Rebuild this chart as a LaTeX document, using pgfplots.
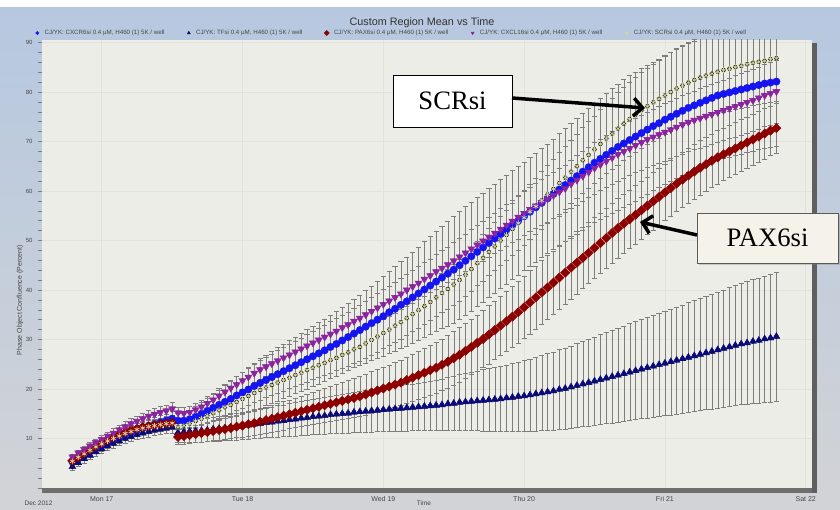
\documentclass[border=0pt]{standalone}
\usepackage{fontspec}
\setmainfont{Liberation Sans}
\newfontfamily\timesf{Liberation Serif}
\usepackage{pgfplots}
\usepackage{pgfplotstable}
\pgfplotsset{compat=1.18}
\usetikzlibrary{arrows.meta,shadows}

\definecolor{cblue}{RGB}{20,20,245}
\definecolor{cnavy}{RGB}{10,10,120}
\definecolor{cred}{RGB}{140,0,0}
\definecolor{cpurple}{RGB}{140,35,160}
\definecolor{ckhaki}{RGB}{212,212,158}
\definecolor{barc}{RGB}{125,125,125}
\definecolor{plotbg}{RGB}{237,237,231}
\definecolor{gridc}{RGB}{226,226,219}
\definecolor{bgtop}{RGB}{182,200,224}
\definecolor{bgbot}{RGB}{210,211,214}
\definecolor{txt}{RGB}{70,70,70}
\definecolor{titc}{RGB}{50,50,50}
\definecolor{boxc}{RGB}{245,243,233}
\definecolor{boxd}{RGB}{90,90,90}
\definecolor{barb}{RGB}{110,110,110}
\definecolor{barr}{RGB}{95,95,95}

\pgfplotstableread{
h B Be N Ne R Re P Pe K Ke
-5 5.3 1.0 4.3 0.8 5.5 0.8 6.3 0.6 5.4 0.8
-4 6.0 1.0 5.1 0.8 6.3 0.8 7.1 0.6 6.2 0.8
-3 6.7 1.0 5.9 0.8 7.1 0.8 7.8 0.6 6.9 0.8
-2 7.4 1.0 6.6 0.8 7.8 0.8 8.5 0.7 7.6 0.9
-1 8.0 1.0 7.3 0.8 8.5 0.8 9.2 0.7 8.3 0.9
0 8.6 1.1 7.9 0.9 9.1 0.9 9.8 0.8 8.9 1.0
1 9.2 1.1 8.5 0.9 9.7 0.9 10.5 0.8 9.5 1.0
2 9.8 1.1 9.0 0.9 10.3 0.9 11.1 0.9 10.0 1.0
3 10.3 1.2 9.5 0.9 10.8 0.9 11.8 0.9 10.5 1.1
4 10.8 1.2 10.0 1.0 11.3 1.0 12.4 1.0 11.0 1.1
5 11.3 1.2 10.4 1.0 11.7 1.0 13.0 1.0 11.4 1.1
6 11.7 1.3 10.8 1.0 12.0 1.0 13.5 1.1 11.8 1.2
7 12.1 1.3 11.1 1.0 12.3 1.0 14.0 1.1 12.1 1.2
8 12.5 1.3 11.4 1.1 12.5 1.1 14.5 1.2 12.4 1.2
9 12.9 1.4 11.7 1.1 12.7 1.1 14.9 1.2 12.6 1.3
10 13.3 1.4 11.9 1.1 12.9 1.1 15.3 1.2 12.8 1.3
11 13.6 1.4 12.1 1.1 13.0 1.1 15.6 1.2 13.0 1.3
12 14.0 1.5 12.3 1.2 13.2 1.2 16.0 1.3 13.1 1.3
13 13.6 1.5 11.2 2.0 10.3 1.5 15.2 1.2 12.3 1.2
14 13.6 1.7 11.3 2.1 10.5 1.6 15.1 1.2 12.6 1.3
15 13.9 1.9 11.4 2.1 10.7 1.6 15.3 1.2 13.0 1.3
16 14.4 2.2 11.5 2.2 10.9 1.7 15.8 1.3 13.5 1.4
17 15.0 2.4 11.6 2.3 11.1 1.8 16.4 1.3 14.0 1.4
18 15.6 2.6 11.7 2.3 11.3 1.9 17.1 1.4 14.6 1.5
19 16.2 2.8 11.9 2.4 11.5 1.9 17.8 1.4 15.1 1.5
20 16.8 3.0 12.0 2.5 11.7 2.0 18.6 1.5 15.7 1.6
21 17.4 3.3 12.1 2.5 11.9 2.1 19.4 1.6 16.3 1.6
22 18.0 3.6 12.3 2.6 12.1 2.1 20.2 1.6 16.8 1.7
23 18.7 3.9 12.4 2.7 12.4 2.2 20.9 1.7 17.4 1.7
24 19.3 4.1 12.6 2.7 12.6 2.3 21.7 1.7 18.0 1.8
25 19.9 4.4 12.7 2.8 12.9 2.4 22.4 1.8 18.6 1.9
26 20.6 4.7 12.9 2.9 13.1 2.4 23.2 1.9 19.2 1.9
27 21.2 5.0 13.0 3.0 13.4 2.5 23.9 1.9 19.8 2.0
28 21.8 5.1 13.2 3.0 13.7 2.6 24.5 2.0 20.3 2.0
29 22.4 5.2 13.3 3.1 14.0 2.7 25.1 2.0 20.8 2.1
30 23.0 5.4 13.5 3.2 14.3 2.8 25.7 2.1 21.3 2.1
31 23.6 5.5 13.6 3.2 14.6 2.9 26.3 2.1 21.8 2.2
32 24.2 5.6 13.8 3.3 14.9 2.9 26.9 2.2 22.3 2.2
33 24.8 5.7 13.9 3.4 15.2 3.0 27.5 2.2 22.8 2.3
34 25.4 5.9 14.1 3.4 15.5 3.1 28.1 2.2 23.3 2.3
35 26.0 6.0 14.2 3.5 15.8 3.2 28.7 2.3 23.8 2.4
36 26.6 6.1 14.4 3.6 16.1 3.3 29.3 2.3 24.3 2.4
37 27.2 6.2 14.5 3.6 16.4 3.4 29.9 2.4 24.8 2.5
38 27.8 6.3 14.6 3.7 16.7 3.5 30.5 2.4 25.3 2.5
39 28.5 6.4 14.8 3.8 17.0 3.5 31.1 2.5 25.8 2.6
40 29.1 6.6 14.9 3.8 17.3 3.6 31.7 2.5 26.3 2.6
41 29.8 6.7 15.0 3.9 17.6 3.7 32.4 2.6 26.9 2.7
42 30.5 6.8 15.1 4.0 17.9 3.8 33.0 2.6 27.4 2.7
43 31.2 6.9 15.3 4.0 18.2 3.9 33.7 2.7 28.0 2.8
44 31.9 7.0 15.4 4.1 18.5 4.0 34.3 2.7 28.5 2.9
45 32.6 7.3 15.5 4.2 18.9 4.1 35.0 2.8 29.2 2.9
46 33.3 7.5 15.6 4.3 19.3 4.2 35.7 2.9 29.9 3.0
47 34.0 7.8 15.7 4.3 19.7 4.3 36.4 2.9 30.6 3.1
48 34.7 8.0 15.8 4.4 20.1 4.3 37.1 3.0 31.3 3.1
49 35.5 8.3 15.9 4.5 20.5 4.4 37.8 3.0 32.0 3.2
50 36.2 8.5 16.0 4.5 20.9 4.5 38.5 3.1 32.8 3.3
51 37.0 8.8 16.1 4.6 21.3 4.6 39.2 3.1 33.5 3.4
52 37.7 9.0 16.2 4.7 21.8 4.7 40.0 3.2 34.3 3.4
53 38.5 9.2 16.3 4.7 22.3 4.8 40.7 3.3 35.1 3.5
54 39.3 9.4 16.4 4.8 22.8 4.9 41.4 3.3 35.9 3.6
55 40.1 9.7 16.5 4.9 23.3 5.0 42.2 3.4 36.7 3.7
56 40.9 9.9 16.6 4.9 23.8 5.0 42.9 3.4 37.6 3.8
57 41.7 10.1 16.7 5.0 24.3 5.1 43.7 3.5 38.5 3.9
58 42.5 10.3 16.8 5.1 24.9 5.2 44.4 3.6 39.4 3.9
59 43.3 10.6 17.0 5.3 25.5 5.3 45.1 3.6 40.2 4.0
60 44.1 10.8 17.1 5.4 26.2 5.4 45.9 3.7 41.1 4.1
61 45.0 11.0 17.3 5.6 26.9 5.5 46.7 3.7 42.0 4.2
62 45.9 11.0 17.4 5.7 27.7 5.6 47.5 3.8 43.1 4.3
63 46.8 11.0 17.5 5.9 28.5 5.6 48.3 3.9 44.2 4.4
64 47.7 11.0 17.6 6.0 29.3 5.7 49.1 3.9 45.4 4.5
65 48.6 11.0 17.7 6.2 30.1 5.8 49.9 4.0 46.5 4.7
66 49.5 11.0 17.8 6.3 31.0 5.9 50.7 4.1 47.7 4.8
67 50.4 11.0 17.9 6.5 31.9 5.9 51.5 4.1 48.8 4.9
68 51.3 11.0 18.0 6.6 32.8 6.0 52.3 4.2 50.0 5.0
69 52.2 11.0 18.2 6.7 33.7 6.1 53.1 4.2 51.1 5.1
70 53.1 11.0 18.3 6.9 34.6 6.1 53.9 4.3 52.3 5.2
71 54.0 11.0 18.5 7.0 35.5 6.2 54.7 4.4 53.5 5.4
72 54.9 11.0 18.6 7.2 36.5 6.3 55.5 4.4 54.6 5.5
73 55.8 11.0 18.8 7.3 37.5 6.4 56.3 4.5 55.8 5.6
74 56.7 11.0 19.0 7.5 38.5 6.4 57.0 4.6 56.9 5.7
75 57.6 11.0 19.2 7.6 39.5 6.5 57.7 4.6 58.1 5.8
76 58.5 11.0 19.4 7.8 40.5 6.5 58.4 4.7 59.3 5.9
77 59.4 11.1 19.6 7.9 41.5 6.4 59.1 4.7 60.4 6.0
78 60.3 11.3 19.9 8.1 42.5 6.4 59.8 4.8 61.6 6.2
79 61.2 11.4 20.1 8.2 43.5 6.4 60.5 4.8 62.7 6.3
80 62.1 11.6 20.4 8.3 44.5 6.3 61.4 4.9 63.9 6.4
81 63.0 11.7 20.7 8.5 45.5 6.3 62.2 5.0 65.0 6.5
82 63.9 11.9 21.0 8.6 46.5 6.2 63.0 5.0 66.2 6.6
83 64.8 12.0 21.3 8.8 47.5 6.2 63.8 5.1 67.3 6.7
84 65.7 12.1 21.6 8.9 48.5 6.2 64.6 5.2 68.4 6.8
85 66.5 12.3 21.9 9.1 49.5 6.1 65.3 5.2 69.5 7.0
86 67.3 12.4 22.2 9.2 50.5 6.1 66.0 5.3 70.6 7.1
87 68.1 12.6 22.5 9.4 51.5 6.0 66.7 5.3 71.6 7.2
88 68.9 12.7 22.8 9.5 52.5 6.0 67.4 5.4 72.6 7.3
89 69.6 12.9 23.1 9.6 53.4 6.0 68.0 5.4 73.6 7.4
90 70.3 13.0 23.4 9.8 54.3 5.9 68.6 5.5 74.5 7.5
91 71.0 13.0 23.7 9.9 55.2 5.9 69.2 5.5 75.4 7.5
92 71.7 13.0 24.0 10.0 56.1 5.9 69.8 5.6 76.3 7.6
93 72.4 13.0 24.3 10.2 57.0 5.8 70.4 5.6 77.1 7.7
94 73.1 13.0 24.6 10.3 57.9 5.8 70.9 5.7 77.9 7.8
95 73.7 13.0 24.9 10.4 58.8 5.8 71.4 5.7 78.6 7.9
96 74.4 13.0 25.2 10.5 59.7 5.7 71.9 5.8 79.3 7.9
97 75.0 13.0 25.5 10.7 60.6 5.7 72.4 5.8 80.0 8.0
98 75.6 13.0 25.8 10.8 61.5 5.6 72.9 5.8 80.7 8.1
99 76.2 13.0 26.1 10.9 62.3 5.6 73.4 5.9 81.3 8.1
100 76.8 13.0 26.4 11.1 63.1 5.6 73.9 5.9 81.9 8.2
101 77.3 13.0 26.7 11.2 63.9 5.5 74.3 5.9 82.4 8.2
102 77.8 13.0 27.0 11.3 64.7 5.5 74.7 6.0 82.9 8.3
103 78.3 13.0 27.3 11.4 65.4 5.5 75.1 6.0 83.3 8.3
104 78.8 13.0 27.6 11.6 66.1 5.4 75.5 6.0 83.7 8.4
105 79.3 13.0 27.9 11.7 66.8 5.4 75.9 6.1 84.1 8.4
106 79.6 13.0 28.2 11.8 67.4 5.3 76.3 6.1 84.4 8.4
107 79.9 13.0 28.5 12.0 68.0 5.3 76.7 6.1 84.7 8.5
108 80.2 13.0 28.8 12.1 68.6 5.3 77.1 6.2 85.0 8.5
109 80.5 13.0 29.1 12.2 69.2 5.2 77.5 6.2 85.3 8.5
110 80.8 13.0 29.3 12.4 69.8 5.2 77.9 6.2 85.6 8.6
111 81.1 13.0 29.6 12.5 70.4 5.1 78.3 6.3 85.9 8.6
112 81.4 13.0 29.8 12.6 71.0 5.1 78.8 6.3 86.1 8.6
113 81.7 13.0 30.1 12.7 71.6 5.1 79.3 6.3 86.3 8.6
114 81.9 13.0 30.3 12.9 72.2 5.0 79.7 6.4 86.6 8.7
115 82.1 13.0 30.6 13.0 72.7 5.0 80.1 6.4 86.8 8.7
}\data

\pgfplotsset{
  ebar/.style={only marks, mark=none, forget plot,
    error bars/y dir=both, error bars/y explicit,
    error bars/error bar style={barc, line width=0.45pt},
    error bars/error mark options={barc, rotate=90, mark size=2.6pt, line width=0.45pt}},
  dots/.style={only marks,
    legend image code/.code={\path (0pt,-2pt) (8pt,2pt); \draw[##1, mark size=1.8pt] plot coordinates {(3pt,0pt)};}},
}

\begin{document}
\begin{tikzpicture}[x=1pt,y=1pt]
\path[use as bounding box] (-42,-21) rectangle (798,488);
\shade[top color=bgtop, bottom color=bgbot] (-42,-21) rectangle (798,481);
\fill[white] (-42,481) rectangle (798,488);
\begin{axis}[name=ax, at={(0,0)}, anchor=south west, scale only axis,
  width=770pt, height=448pt,
  xmin=-10.18, xmax=121.07, ymin=0, ymax=90.5,
  axis background/.style={fill=plotbg},
  axis line style={draw=none},
  xtick={0,24,48,72,96,120},
  xticklabels={Mon 17,Tue 18,Wed 19,Thu 20,Fri 21,Sat 22},
  ytick={10,20,...,90}, minor ytick={0,2,...,90},
  grid=major, major grid style={gridc, line width=0.8pt},
  tick align=outside, ytick pos=left, xtick pos=bottom,
  xtick style={draw=none},
  ytick style={barc, line width=0.4pt},
  minor y tick style={barc, line width=0.4pt},
  major tick length=4pt, minor tick length=4pt,
  /pgf/number format/assume math mode=true,
  yticklabel style={font=\fontsize{6}{7}\selectfont, text=txt, xshift=-2pt},
  xticklabel style={font=\fontsize{7}{8}\selectfont, text=txt, yshift=-1pt},
  legend style={at={(0,1)}, anchor=west, xshift=-8pt, yshift=7pt,
    draw=none, fill=none, inner sep=0pt,
    font=\fontsize{6.2}{7}\selectfont, text=txt,
    /tikz/every even column/.append style={column sep=19pt}},
  legend columns=-1,
]
\addplot[ebar] table[x=h,y=K,y error=Ke]{\data};
\addplot[ebar] table[x=h,y=P,y error=Pe]{\data};
\addplot[ebar] table[x=h,y=R,y error=Re]{\data};
\addplot[ebar] table[x=h,y=N,y error=Ne]{\data};
\addplot[ebar] table[x=h,y=B,y error=Be]{\data};

\addplot[dots, color=cblue, mark=*, mark size=3.8pt, mark options={draw=cblue!85!black, line width=0.2pt}] table[x=h,y=B]{\data};
\addlegendentry{CJ/YK: CXCR6si 0.4 μM, H460 (1) 5K / well}
\addplot[dots, color=cnavy, mark=triangle*, mark size=4pt] table[x=h,y=N]{\data};
\addlegendentry{CJ/YK: TFsi 0.4 μM, H460 (1) 5K / well}
\addplot[dots, color=cred, mark=square*, mark size=3.3pt, mark options={rotate=45}] table[x=h,y=R]{\data};
\addlegendentry{CJ/YK: PAX6si 0.4 μM, H460 (1) 5K / well}
\addplot[dots, color=cpurple, mark=triangle*, mark size=4.1pt, mark options={rotate=180}] table[x=h,y=P]{\data};
\addlegendentry{CJ/YK: CXCL16si 0.4 μM, H460 (1) 5K / well}
\addplot[dots, color=ckhaki, mark=asterisk, mark size=2.8pt, line width=0.7pt] table[x=h,y=K]{\data};
\addlegendentry{CJ/YK: SCRsi 0.4 μM, H460 (1) 5K / well}
\end{axis}

\fill[barb] (0,-5) rectangle (774,0.5);
\fill[barr] (770,-5) rectangle (774.5,445);

\node[font=\fontsize{10.8}{12}\selectfont, text=titc] at (380,465) {Custom Region Mean vs Time};
\node[rotate=90, font=\fontsize{7}{8}\selectfont, text=txt] at (-22,188) {Phase Object Confluence (Percent)};
\node[font=\fontsize{6.5}{7}\selectfont, text=txt] at (-3.5,-15) {Dec 2012};
\node[font=\fontsize{6.5}{7}\selectfont, text=txt] at (382,-15) {Time};

\node[draw=black, line width=0.8pt, fill=white, minimum width=119pt, minimum height=52pt, inner sep=0pt,
  font=\timesf\fontsize{26.6}{30}\selectfont] at (410.5,387) {SCRsi};
\draw[line width=3.5pt, -{Straight Barb[length=9pt,width=18pt]}] (470,390) -- (603,380);
\node[draw=boxd, line width=0.6pt, fill=boxc, minimum width=141pt, minimum height=50pt, inner sep=0pt,
  drop shadow={opacity=0.35, shadow xshift=2pt, shadow yshift=-2pt},
  font=\timesf\fontsize{26.6}{30}\selectfont] at (725.5,250) {PAX6si};
\draw[line width=3.5pt, -{Straight Barb[length=9pt,width=18pt]}] (655,253) -- (598,266);
\end{tikzpicture}
\end{document}
